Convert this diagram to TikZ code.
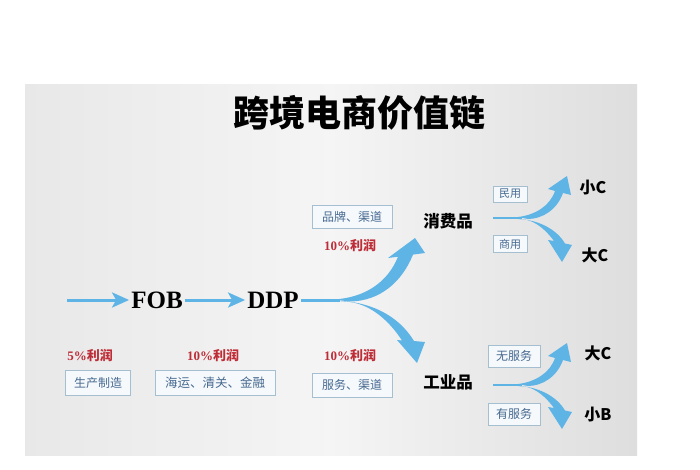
\documentclass[tikz,border=0pt]{standalone}
\usepackage{fontspec}
\newfontfamily\cjk{Noto Sans CJK SC}
\newfontfamily\cjkblack{Noto Sans CJK SC Black}
\newfontfamily\tnr{Liberation Serif}
\usetikzlibrary{arrows.meta}
\definecolor{sky}{RGB}{95,180,230}
\definecolor{profit}{RGB}{190,45,55}
\definecolor{tagtext}{RGB}{70,105,145}
\definecolor{tagline}{RGB}{165,190,208}
\definecolor{tagfill}{RGB}{246,249,251}
\begin{document}
\begin{tikzpicture}[x=1pt,y=-1pt,
  tag/.style={draw=tagline, line width=0.9pt, fill=tagfill, text=tagtext, inner sep=0pt,
    font=\cjk\fontsize{12}{12}\selectfont},
  smalltag/.style={tag, font=\cjk\fontsize{11}{11}\selectfont},
  profitlbl/.style={text=profit, inner sep=0pt, font=\tnr\bfseries\fontsize{13}{13}\selectfont},
  term/.style={inner sep=2pt, font=\tnr\bfseries\fontsize{25}{25}\selectfont},
  goods/.style={inner sep=0pt, font=\cjk\bfseries\fontsize{16.5}{16.5}\selectfont},
  target/.style={inner sep=0pt, font=\cjk\bfseries\fontsize{16}{16}\selectfont},
  flow/.style={sky, line width=3pt, -{Stealth[length=17pt,width=15pt,inset=4pt]}},
  stem/.style={sky, line width=3pt},
  swoosh/.style={fill=sky}
]
\useasboundingbox (0,0) rectangle (700,470);
\fill[white] (0,0) rectangle (700,470);
\shade[left color=black!9, right color=black!13, middle color=black!4] (25,85) rectangle (637,455);

% title
\node[inner sep=0pt, font=\cjkblack\fontsize{36}{36}\selectfont] (title) at (359,113) {跨境电商价值链};

% main chain
\coordinate (s0) at (67,300);
\node[term] (fob) at (157,300) {FOB};
\node[term] (ddp) at (273,300) {DDP};
\draw[flow] (s0) -- (fob);
\draw[flow] (fob) -- (ddp);
\coordinate (split1) at (340,300);
\draw[stem] (ddp.east) -- (split1);

% big swooshes
\fill[swoosh] (333,299.5) .. controls (365,298) and (388,282) .. (398,256.7) -- (388,258) -- (415,238) -- (425,253) -- (413,254.6) .. controls (402,282) and (380,301) .. (350,301.5) -- cycle;
\fill[swoosh] (333,300.5) .. controls (370,301) and (398,315) .. (414,341) -- (425,342) -- (417,363) -- (397,340) -- (402,340.5) .. controls (390,322) and (372,305) .. (350,302) -- cycle;

% goods
\node[goods] (xfp) at (448,221) {消费品};
\node[goods] (gyp) at (448,382) {工业品};

% small swooshes, consumer
\coordinate (b2) at (493,218);
\coordinate (split2) at (522,218);
\draw[sky, line width=2.8pt] (b2) -- (split2);
\fill[swoosh] (518,217) .. controls (535,215) and (550,206) .. (555,191) -- (548,189) -- (567,176) -- (571,195) -- (563,193) .. controls (557,210) and (542,219) .. (528,219) -- cycle;
\fill[swoosh] (518,219) .. controls (536,219.5) and (556,228) .. (565,243.5) -- (572,245) -- (562,262) -- (548,240) -- (554,241) .. controls (546,230) and (536,222) .. (527,220) -- cycle;

% small swooshes, industrial
\begin{scope}[shift={(0,167)}]
\coordinate (b3) at (493,218);
\coordinate (split3) at (522,218);
\draw[sky, line width=2.8pt] (b3) -- (split3);
\fill[swoosh] (518,217) .. controls (535,215) and (550,206) .. (555,191) -- (548,189) -- (567,176) -- (571,195) -- (563,193) .. controls (557,210) and (542,219) .. (528,219) -- cycle;
\fill[swoosh] (518,219) .. controls (536,219.5) and (556,228) .. (565,243.5) -- (572,245) -- (562,262) -- (548,240) -- (554,241) .. controls (546,230) and (536,222) .. (527,220) -- cycle;
\end{scope}

% targets
\node[target] (c1) at (593,188) {小C};
\node[target] (c2) at (595,255) {大C};
\node[target] (c3) at (598,353) {大C};
\node[target] (b1) at (598,415) {小B};

% tags
\node[tag, minimum width=80pt, minimum height=23pt] (t1) at (352,217) {品牌、渠道};
\node[tag, minimum width=65pt, minimum height=25pt] (t2) at (98,383) {生产制造};
\node[tag, minimum width=120pt, minimum height=25pt, font=\cjk\fontsize{12.5}{12.5}\selectfont] (t3) at (215,383) {海运、清关、金融};
\node[tag, minimum width=80pt, minimum height=24pt] (t4) at (352,385) {服务、渠道};
\node[smalltag, minimum width=34pt, minimum height=16pt] (t5) at (510,194) {民用};
\node[smalltag, minimum width=34pt, minimum height=17pt] (t6) at (510,244) {商用};
\node[tag, minimum width=52pt, minimum height=22pt] (t7) at (514,356) {无服务};
\node[tag, minimum width=52pt, minimum height=22pt] (t8) at (514,414) {有服务};

% profits
\node[profitlbl] (p1) at (350,245) {10\%{\cjk\bfseries 利润}};
\node[profitlbl] (p2) at (90,355) {5\%{\cjk\bfseries 利润}};
\node[profitlbl] (p3) at (213,355) {10\%{\cjk\bfseries 利润}};
\node[profitlbl] (p4) at (350,355) {10\%{\cjk\bfseries 利润}};
\end{tikzpicture}
\end{document}
